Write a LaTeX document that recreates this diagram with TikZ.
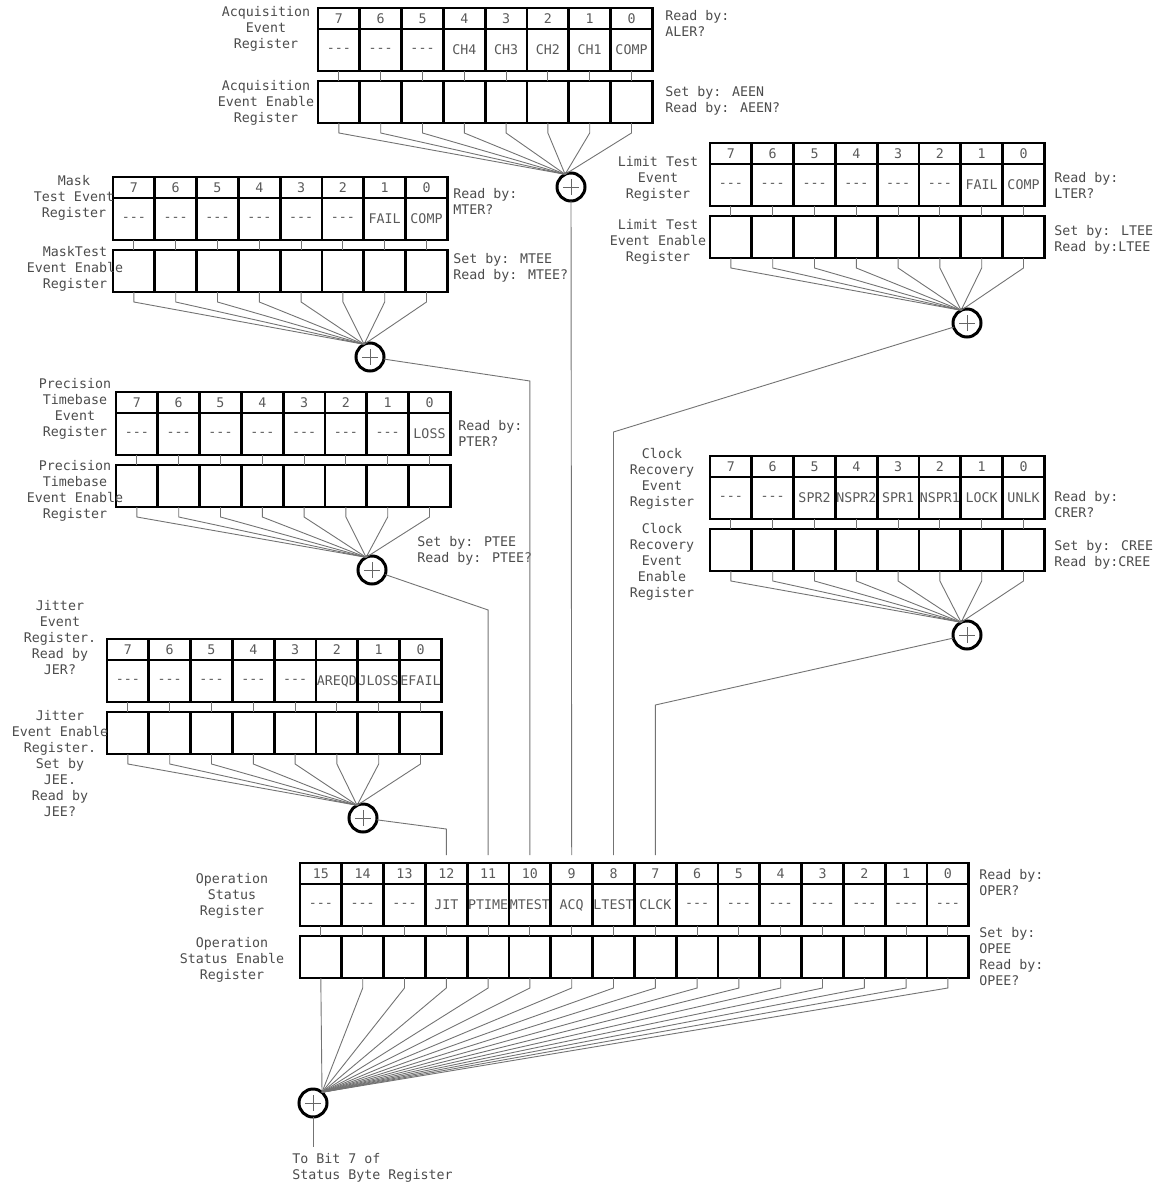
\documentclass[tikz,border=0pt]{standalone}
\usepackage{fontspec}
\newfontfamily\regfont{DejaVu Sans Mono}
\usetikzlibrary{positioning,calc}
\newcommand\nb{-{}-{}-}
\tikzset{
  bitnum/.style={draw,line width=1.4pt,minimum width=20.9pt,minimum height=10.5pt,inner sep=0pt,outer sep=0pt,
    font=\regfont\fontsize{6.65}{8}\selectfont,text=black!65},
  bitcell/.style={bitnum,minimum height=21pt},
  enbit/.style={bitnum,minimum height=21pt},
  sumnode/.style={circle,draw,line width=1.5pt,minimum size=14pt,inner sep=0pt,outer sep=0pt,
    path picture={\draw[black!60,line width=0.4pt]
      ([xshift=-3.8pt]path picture bounding box.center) -- ([xshift=3.8pt]path picture bounding box.center)
      ([yshift=-3.8pt]path picture bounding box.center) -- ([yshift=3.8pt]path picture bounding box.center);}},
  wire/.style={draw=black!55,line width=0.45pt},
  regname/.style={align=center,inner sep=0pt,font=\regfont\fontsize{6.65}{8}\selectfont,text=black!70},
  regnote/.style={regname,align=left,anchor=west}
}
% one register: event row with bit numbers, enable row below
\newcommand\bitreg[4]{%
  \foreach \bt/\lab [count=\k from 0] in {#4} {
    \node[bitnum,anchor=north west] (#1n\bt) at ({#2+\k*41.8},#3) {\bt};
    \node[bitcell,below=0pt of #1n\bt] (#1e\bt) {\lab};
    \node[enbit,below=5pt of #1e\bt] (#1m\bt) {};
    \draw[wire] (#1e\bt) -- (#1m\bt);
  }}
% enable bits into the summing node
\newcommand\fanin[3]{%
  \foreach \bt in {#2} \draw[wire] (#1m\bt.south) -- ++(0,10) -- (#1sum.#3);}

\begin{document}
\begin{tikzpicture}[x=0.5pt,y=-0.5pt]
\useasboundingbox (0,0) rectangle (1158,1188);

% acquisition
\bitreg{acq}{318}{8}{7/\nb,6/\nb,5/\nb,4/CH4,3/CH3,2/CH2,1/CH1,0/COMP}
\node[sumnode] (acqsum) at (571,187) {};
\fanin{acq}{7,...,0}{115}
\node[regname] (acqlbl) at (266,29) {Acquisition\\Event\\Register};
\node[regname] (acqenlbl) at (266,103) {Acquisition\\Event Enable\\Register};
\node[regnote] (acqread) at (665,23) {Read by:\\ALER?};
\node[regnote] (acqset) at (665,101) {Set by: AEEN\\Read by: AEEN?};

% mask test
\bitreg{mask}{113}{177}{7/\nb,6/\nb,5/\nb,4/\nb,3/\nb,2/\nb,1/FAIL,0/COMP}
\node[sumnode] (masksum) at (370,357) {};
\fanin{mask}{7,...,0}{115}
\node[regname] (masklbl) at (74,198) {Mask\\Test Event\\Register};
\node[regname] (maskenlbl) at (75,269) {MaskTest\\Event Enable\\Register};
\node[regnote] (maskread) at (453,201) {Read by:\\MTER?};
\node[regnote] (maskset) at (453,268) {Set by: MTEE\\Read by: MTEE?};

% precision timebase
\bitreg{pt}{116}{392}{7/\nb,6/\nb,5/\nb,4/\nb,3/\nb,2/\nb,1/\nb,0/LOSS}
\node[sumnode] (ptsum) at (372,570) {};
\fanin{pt}{7,...,0}{115}
\node[regname] (ptlbl) at (75,409) {Precision\\Timebase\\Event\\Register};
\node[regname] (ptenlbl) at (75,491) {Precision\\Timebase\\Event Enable\\Register};
\node[regnote] (ptread) at (458,433) {Read by:\\PTER?};
\node[regnote] (ptset) at (417,551) {Set by: PTEE\\Read by: PTEE?};

% jitter
\bitreg{jit}{107}{639}{7/\nb,6/\nb,5/\nb,4/\nb,3/\nb,2/AREQD,1/JLOSS,0/EFAIL}
\node[sumnode] (jitsum) at (363,818) {};
\fanin{jit}{7,...,0}{115}
\node[regname] (jitlbl) at (60,638) {Jitter\\Event\\Register.\\Read by\\JER?};
\node[regname] (jitenlbl) at (60,764) {Jitter\\Event Enable\\Register.\\Set by\\JEE.\\Read by\\JEE?};

% limit test
\bitreg{lt}{710}{143}{7/\nb,6/\nb,5/\nb,4/\nb,3/\nb,2/\nb,1/FAIL,0/COMP}
\node[sumnode] (ltsum) at (967,323) {};
\fanin{lt}{7,...,0}{115}
\node[regname] (ltlbl) at (658,179) {Limit Test\\Event\\Register};
\node[regname] (ltenlbl) at (658,242) {Limit Test\\Event Enable\\Register};
\node[regnote] (ltread) at (1054,185) {Read by:\\LTER?};
\node[regnote] (ltset) at (1054,240) {Set by: LTEE\\Read by:LTEE};

% clock recovery
\bitreg{cr}{710}{456}{7/\nb,6/\nb,5/SPR2,4/NSPR2,3/SPR1,2/NSPR1,1/LOCK,0/UNLK}
\node[sumnode] (crsum) at (967,635) {};
\fanin{cr}{7,...,0}{115}
\node[regname] (crlbl) at (662,479) {Clock\\Recovery\\Event\\Register};
\node[regname] (crenlbl) at (662,562) {Clock\\Recovery\\Event\\Enable\\Register};
\node[regnote] (crread) at (1054,505) {Read by:\\CRER?};
\node[regnote] (crset) at (1054,555) {Set by: CREE\\Read by:CREE};

% operation status
\bitreg{op}{300}{863}{15/\nb,14/\nb,13/\nb,12/JIT,11/PTIME,10/MTEST,9/ACQ,8/LTEST,7/CLCK,6/\nb,5/\nb,4/\nb,3/\nb,2/\nb,1/\nb,0/\nb}
\node[sumnode] (opsum) at (313,1103) {};
\fanin{op}{15,...,0}{50}
\node[regname] (oplbl) at (232,896) {Operation\\Status\\Register};
\node[regname] (openlbl) at (232,960) {Operation\\Status Enable\\Register};
\node[regnote] (opread) at (979,883) {Read by:\\OPER?};
\node[regnote] (opset) at (979,957) {Set by:\\OPEE\\Read by:\\OPEE?};
\node[regnote,anchor=north west] (tobit) at (292,1153) {To Bit 7 of\\Status Byte Register};

% summary bits into the operation status register
\foreach \bt in {12,...,7} \coordinate (in\bt) at ($(opn\bt.north)+(0,-8)$);
\path (0,381) coordinate (masky) (0,610) coordinate (pty) (0,829) coordinate (jity)
      (0,432) coordinate (lty) (0,705) coordinate (cry);
\draw[wire] (acqsum) -- (in9);
\draw[wire] (masksum) -- (in10 |- masky) -- (in10);
\draw[wire] (ptsum) -- (in11 |- pty) -- (in11);
\draw[wire] (jitsum) -- (in12 |- jity) -- (in12);
\draw[wire] (ltsum) -- (in8 |- lty) -- (in8);
\draw[wire] (crsum) -- (in7 |- cry) -- (in7);
\draw[wire] (opsum) -- ($(opsum |- tobit.north)+(0,-6)$);

\end{tikzpicture}
\end{document}
